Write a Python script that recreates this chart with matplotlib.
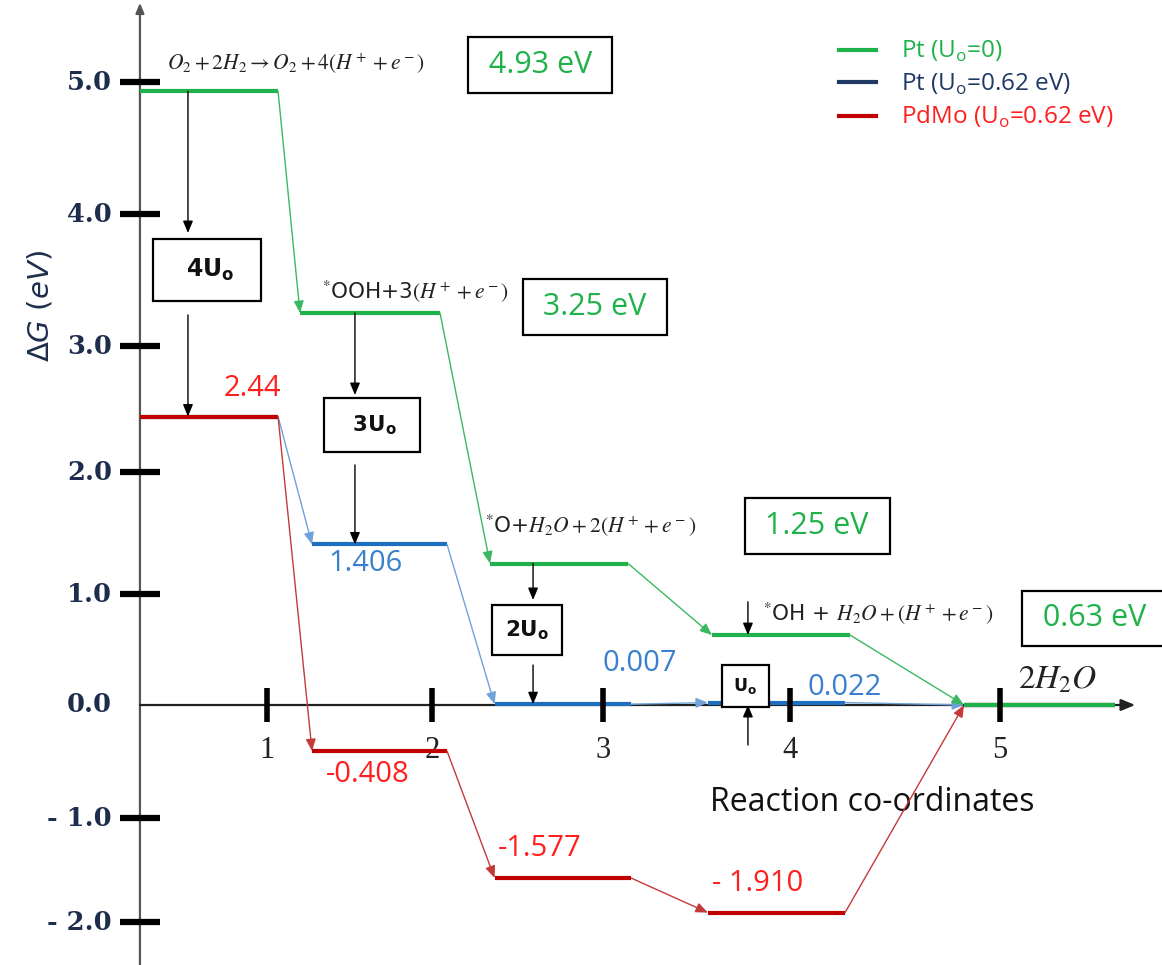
import numpy as np
import matplotlib
matplotlib.use('Agg')
import matplotlib.pyplot as plt
from matplotlib.lines import Line2D

# free energy levels (eV) along the reaction path
steps = [1, 2, 3, 4, 5]
pt_u0 = [4.93, 3.25, 1.25, 0.63, 0.0]
pt_u062 = [2.44, 1.406, 0.007, 0.022, 0.0]
pdmo_u062 = [2.44, -0.408, -1.577, -1.910, 0.0]

blue_labels = ['1.406', '0.007', '0.022']
red_labels = ['2.44', '-0.408', '-1.577', '- 1.910']
green_labels = ['4.93 eV', '3.25 eV', '1.25 eV', '0.63 eV']
species = [r'$O_2 + 2H_2 \rightarrow O_2 + 4(H^+ + e^-)$',
           r'$^{*}$OOH+3$(H^+ + e^-)$',
           r'$^{*}$O+$H_2O + 2(H^+ + e^-)$',
           r'$^{*}$OH + $H_2O + (H^+ + e^-)$']
u_labels = [r'$\mathbf{4U_o}$', r'$\mathbf{3U_o}$', r'$\mathbf{2U_o}$', r'$\mathbf{U_o}$']

y_ticks = [5.0, 4.0, 3.0, 2.0, 1.0, 0.0, -1.0, -2.0]
y_tick_labels = ['5.0', '4.0', '3.0', '2.0', '1.0', '0.0', '- 1.0', '- 2.0']

# the hand drawn axes are not evenly spaced: piecewise linear scales
x_anchor = [-0.618, 1, 2, 3, 4, 5, 5.771]
x_screen = [0, 267, 432, 603, 790, 1000, 1162]
y_anchor = [-2.413, -2, -1, 0, 1, 2, 3, 4, 5, 5.621]
y_screen = [0, 43, 147, 260, 371, 493, 619, 751, 883, 965]

# horizontal extent of each level (reaction coordinate units)
green_cols = [(0.23, 1.067), (1.2, 2.047), (2.339, 3.134), (3.583, 4.286), (4.829, 5.548)]
cols = [(0.23, 1.067), (1.273, 2.088), (2.366, 3.150), (3.561, 4.262), (4.829, 5.548)]

GREEN = '#1fb24a'
GREEN_THIN = '#3bb862'
BLUE = '#1f6fc0'
BLUE_THIN = '#6fa2d8'
NAVY = '#1f3864'
RED = '#c00000'
RED_THIN = '#c43a3a'
RED_TXT = '#ff1f1f'
BLUE_TXT = '#3a80cf'
DARK = '#1f2d4d'

fig = plt.figure(figsize=(11.62, 9.65), dpi=100)
ax = fig.add_axes([0, 0, 1, 1])
ax.set_xscale('function', functions=(lambda v: np.interp(v, x_anchor, x_screen),
                                     lambda s: np.interp(s, x_screen, x_anchor)))
ax.set_yscale('function', functions=(lambda v: np.interp(v, y_anchor, y_screen),
                                     lambda s: np.interp(s, y_screen, y_anchor)))
ax.set_xlim(x_anchor[0], x_anchor[-1])
ax.set_ylim(y_anchor[0], y_anchor[-1])
ax.axis('off')

y_axis_x = 0.23


def arrow(x0, y0, x1, y1, color, lw=1.0, ms=12):
    ax.annotate('', xy=(x1, y1), xytext=(x0, y0),
                arrowprops=dict(arrowstyle='-|>,head_length=0.6,head_width=0.25',
                                color=color, lw=lw, shrinkA=0, shrinkB=0,
                                mutation_scale=ms))


def draw_path(vals, columns, lvl_color, thin_color):
    for i, v in enumerate(vals):
        x0, x1 = columns[i]
        ax.plot([x0, x1], [v, v], color=lvl_color, lw=3, solid_capstyle='butt', zorder=3)
        if i + 1 < len(vals):
            arrow(x1, v, columns[i + 1][0], vals[i + 1], thin_color)


def label(txt, x, v, dy, color, fs=21, **kw):
    ax.annotate(txt, xy=(x, v), xytext=(0, dy), textcoords='offset points',
                ha='center', va='center', fontsize=fs, family='Open Sans', color=color, **kw)


# axes with arrows
arrow(y_axis_x, -2.413, y_axis_x, 5.60, '#555555', lw=1.6, ms=10)
arrow(y_axis_x, 0.0, 5.643, 0.0, '#222222', lw=1.6, ms=14)

for v, lab in zip(y_ticks, y_tick_labels):
    if v != 0.0:
        ax.plot([0.109, 0.352], [v, v], color='black', lw=4.5, solid_capstyle='butt', zorder=4)
    ax.text(0.061, v, lab, ha='right', va='center', fontsize=18.5, fontweight='bold',
            family='DejaVu Serif', color=DARK)

for s in steps:
    ax.plot([s, s], [0.153, -0.150], color='black', lw=4, solid_capstyle='butt', zorder=4)
    ax.text(s, -0.40, str(s), ha='center', va='center', fontsize=22,
            family='Liberation Serif', color='#222222')

ax.text(-0.376, 3.30, r'$\Delta G\ (eV)$', rotation=90, ha='center', va='center',
        fontsize=21, color=DARK, math_fontfamily='dejavusans')
ax.text(4.39, -0.86, 'Reaction co-ordinates', ha='center', va='center',
        fontsize=23, family='Open Sans', color='#111111')
ax.text(5.086, 0.23, r'$2H_2O$', ha='left', va='center', fontsize=24,
        color='#222222', math_fontfamily='stix')

# energy paths
draw_path(pt_u062, cols, BLUE, BLUE_THIN)
draw_path(pdmo_u062, cols, RED, RED_THIN)
draw_path(pt_u0, green_cols, GREEN, GREEN_THIN)

# value labels (x position, vertical offset in points from the level)
red_pos = [(0.909, 20), (1.612, -17), (2.632, 21.6), (3.829, 21)]
for lab, v, (x, dy) in zip(red_labels, pdmo_u062, red_pos):
    label(lab, x, v, dy, RED_TXT)

blue_pos = [(1.594, -14), (3.198, 29), (4.262, 11)]
for lab, v, (x, dy) in zip(blue_labels, pt_u062[1:], blue_pos):
    label(lab, x, v, dy, BLUE_TXT)

green_pos = [(2.632, 18.7), (2.953, 4.3), (4.129, 27), (5.45, 12)]
for lab, v, (x, dy) in zip(green_labels, pt_u0, green_pos):
    label(' ' + lab + ' ', x, v, dy, GREEN, fs=22,
          bbox=dict(boxstyle='square,pad=0.42', fc='white', ec='black', lw=1.6))

species_pos = [(0.394, 20), (1.333, 15.8), (2.31, 28), (3.856, 16)]
for lab, v, (x, dy) in zip(species, pt_u0, species_pos):
    ax.annotate(lab, xy=(x, v), xytext=(0, dy), textcoords='offset points',
                ha='left', va='center', fontsize=15.5, color='#222222',
                math_fontfamily='stix')

# applied potential boxes and arrows
u_pos = [(0.636, 3.576, 17, 0.75, '  '), (1.636, 2.373, 15.5, 0.7, '  '),
         (2.556, 0.676, 15.5, 0.6, ''), (3.761, 0.171, 12.5, 0.65, '')]
for lab, (x, y, fs, pad, sp) in zip(u_labels, u_pos):
    ax.text(x, y, sp + lab + sp, ha='center', va='center', fontsize=fs, color='#111111',
            math_fontfamily='dejavusans', zorder=5,
            bbox=dict(boxstyle='square,pad=%s' % pad, fc='white', ec='black', lw=1.6))

arrow(0.521, 4.93, 0.521, 3.856, 'black')
arrow(0.521, 3.235, 0.521, 2.44, 'black')
arrow(1.533, 3.25, 1.533, 2.611, 'black')
arrow(1.533, 2.056, 1.533, 1.406, 'black')
arrow(2.591, 1.25, 2.591, 0.946, 'black')
arrow(2.591, 0.36, 2.591, 0.007, 'black')
arrow(3.775, 0.93, 3.775, 0.63, 'black')
arrow(3.775, -0.354, 3.775, 0.0, 'black')

# legend
handles = [Line2D([], [], color=GREEN, lw=3),
           Line2D([], [], color=NAVY, lw=3),
           Line2D([], [], color=RED, lw=3)]
leg_labels = [r'Pt (U$_\mathregular{o}$=0)', r'Pt (U$_\mathregular{o}$=0.62 eV)',
              r'PdMo (U$_\mathregular{o}$=0.62 eV)']
leg = ax.legend(handles, leg_labels, loc='upper left', bbox_to_anchor=(0.703, 0.982),
                frameon=False, handlelength=1.55, handletextpad=1.0, labelspacing=0.3,
                prop={'family': 'Open Sans', 'size': 17.5})
for t, c in zip(leg.get_texts(), [GREEN, NAVY, RED_TXT]):
    t.set_color(c)

fig.savefig('out.png', dpi=100)
